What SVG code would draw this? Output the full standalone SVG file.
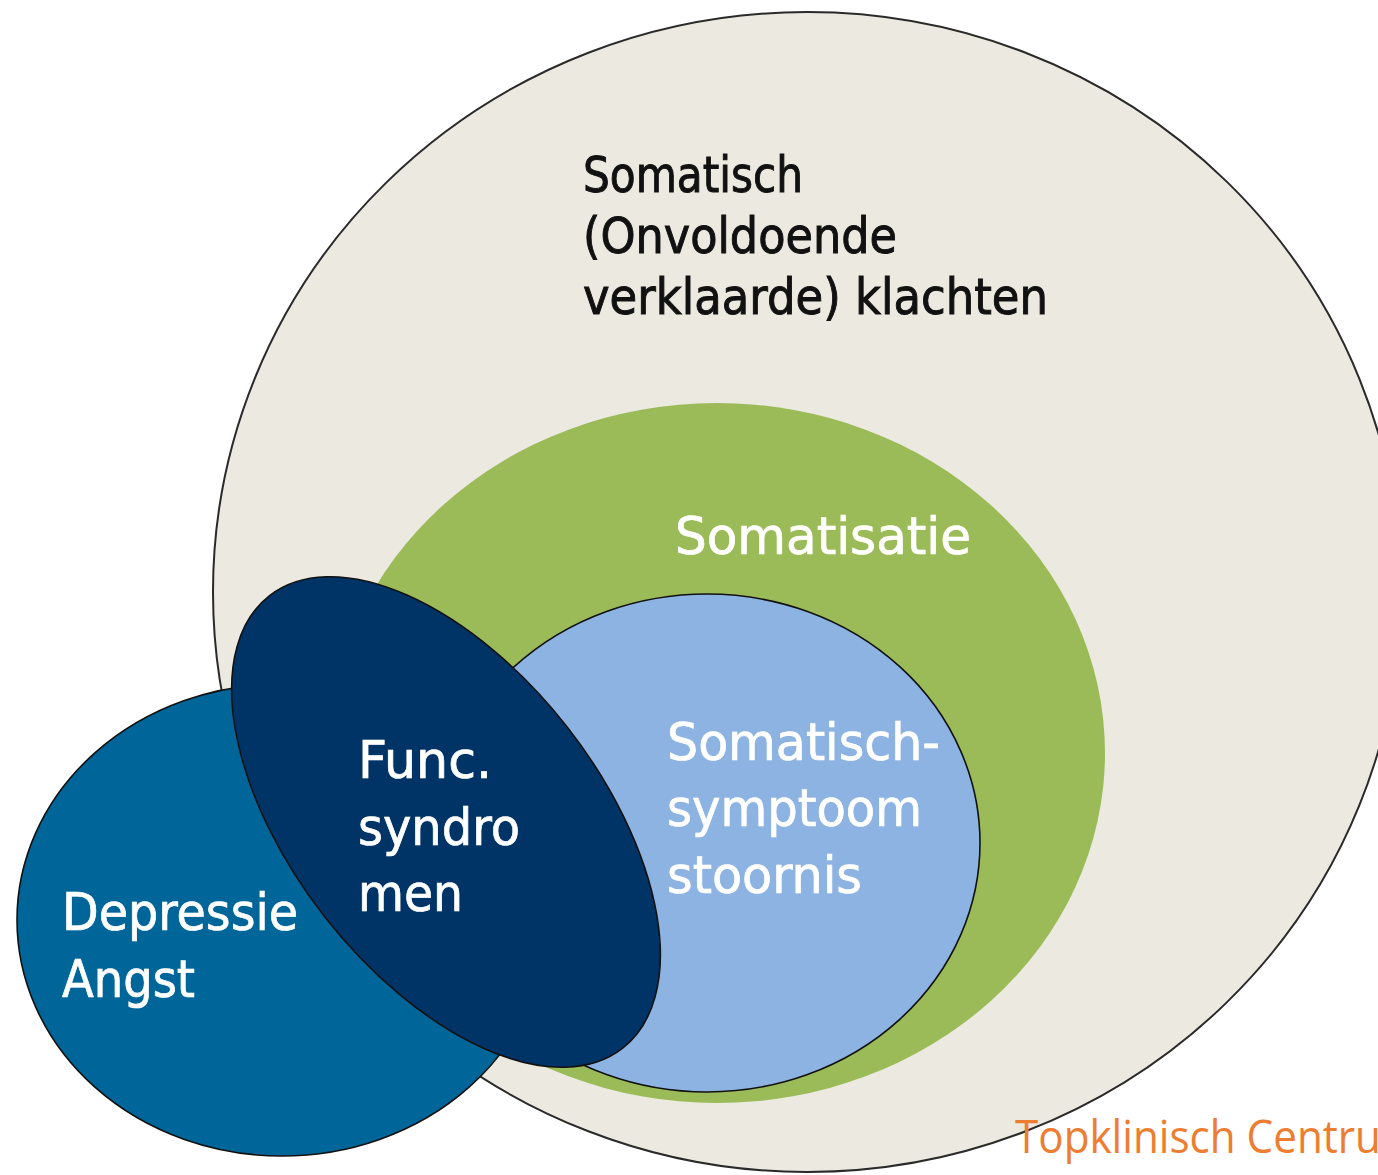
<svg xmlns="http://www.w3.org/2000/svg" width="1378" height="1175" viewBox="0 0 1378 1175">
  <style>
    .lbl { font-family: "DejaVu Sans Condensed", "DejaVu Sans", "Liberation Sans", sans-serif; font-stretch: condensed; }
    .dark { fill: #111111; stroke: #111111; stroke-width: 0.9; font-size: 50px; }
    .light { fill: #ffffff; stroke: #ffffff; stroke-width: 0.7; font-size: 52px; }
    .edge { stroke: #111111; stroke-width: 1.6; }
    .brand { font-family: "Open Sans", "Noto Sans", "Liberation Sans", sans-serif; font-size: 46px; fill: #ED7D31; }
  </style>
  <rect width="1378" height="1175" fill="#ffffff"/>

  <!-- outer set: somatic complaints -->
  <g id="somatisch">
    <ellipse cx="807" cy="592" rx="594" ry="580" fill="#ECEAE0" stroke="#2a2a2a" stroke-width="2"/>
    <text class="lbl dark" x="583" y="192" textLength="220" lengthAdjust="spacingAndGlyphs">Somatisch</text>
    <text class="lbl dark" x="583" y="253" textLength="314" lengthAdjust="spacingAndGlyphs">(Onvoldoende</text>
    <text class="lbl dark" x="583" y="314" textLength="465" lengthAdjust="spacingAndGlyphs">verklaarde) klachten</text>
  </g>

  <!-- somatisation -->
  <g id="somatisatie">
    <ellipse cx="717" cy="753" rx="388" ry="350" fill="#9BBB59"/>
    <text class="lbl light" x="675" y="554" textLength="296" lengthAdjust="spacingAndGlyphs">Somatisatie</text>
  </g>

  <!-- somatic symptom disorder -->
  <g id="sss">
    <ellipse class="edge" cx="707" cy="843" rx="273" ry="249" fill="#8DB3E2"/>
    <text class="lbl light" x="667" y="760" textLength="273" lengthAdjust="spacingAndGlyphs">Somatisch-</text>
    <text class="lbl light" x="667" y="826" textLength="255" lengthAdjust="spacingAndGlyphs">symptoom</text>
    <text class="lbl light" x="667" y="893" textLength="195" lengthAdjust="spacingAndGlyphs">stoornis</text>
  </g>

  <!-- depression / anxiety -->
  <g id="depressie">
    <ellipse class="edge" cx="282" cy="920" rx="265" ry="236" fill="#006699"/>
    <text class="lbl light" x="62" y="930" textLength="236" lengthAdjust="spacingAndGlyphs">Depressie</text>
    <text class="lbl light" x="62" y="997" textLength="133" lengthAdjust="spacingAndGlyphs">Angst</text>
  </g>

  <!-- functional syndromes -->
  <g id="functioneel">
    <ellipse class="edge" cx="0" cy="0" rx="287" ry="154" fill="#003366" transform="translate(446 822) rotate(52)"/>
    <text class="lbl light" x="358" y="778" textLength="134" lengthAdjust="spacingAndGlyphs">Func.</text>
    <text class="lbl light" x="358" y="845" textLength="162" lengthAdjust="spacingAndGlyphs">syndro</text>
    <text class="lbl light" x="358" y="911" textLength="105" lengthAdjust="spacingAndGlyphs">men</text>
  </g>

  <g id="footer">
    <text class="brand" x="1015" y="1153" textLength="405" lengthAdjust="spacingAndGlyphs">Topklinisch Centrum</text>
  </g>
</svg>
